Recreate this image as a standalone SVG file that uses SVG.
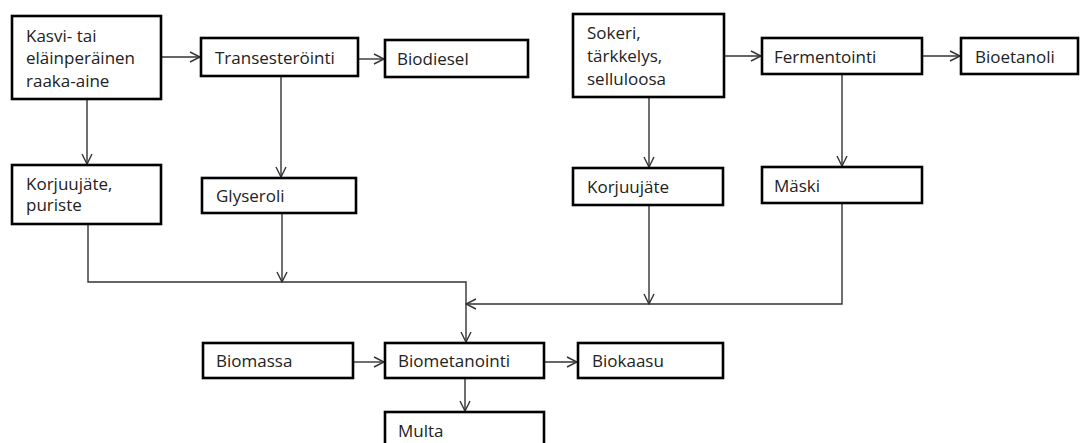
<svg xmlns="http://www.w3.org/2000/svg" width="1081" height="443" viewBox="0 0 1081 443">
<style>
.box{fill:#fff;stroke:#000;stroke-width:2.6}
.t{font-family:"Open Sans","Noto Sans",sans-serif;font-size:17px;fill:#222}
.c{fill:none;stroke:#333;stroke-width:1.4}
</style>
<defs>
<marker id="a" viewBox="0 0 12 12" refX="11" refY="6" markerWidth="12" markerHeight="12" markerUnits="userSpaceOnUse" orient="auto">
<path d="M1,1 L11,6 L1,11" fill="none" stroke="#333" stroke-width="1.4"/>
</marker>
</defs>
<rect width="1081" height="443" fill="#fff"/>
<g id="connectors">
<path class="c" d="M161,57 H200" marker-end="url(#a)"/>
<path class="c" d="M358,59 H384" marker-end="url(#a)"/>
<path class="c" d="M87,99 V164" marker-end="url(#a)"/>
<path class="c" d="M281,76 V177" marker-end="url(#a)"/>
<path class="c" d="M724,56 H761" marker-end="url(#a)"/>
<path class="c" d="M922,56 H960" marker-end="url(#a)"/>
<path class="c" d="M649,97 V167" marker-end="url(#a)"/>
<path class="c" d="M842,74 V166" marker-end="url(#a)"/>
<path class="c" d="M88,224 V282 H466 V342" marker-end="url(#a)"/>
<path class="c" d="M282,213 V282" marker-end="url(#a)"/>
<path class="c" d="M649,205 V304" marker-end="url(#a)"/>
<path class="c" d="M842,203 V304 H466" marker-end="url(#a)"/>
<path class="c" d="M353,362 H384" marker-end="url(#a)"/>
<path class="c" d="M544,362 H577" marker-end="url(#a)"/>
<path class="c" d="M465,378 V411" marker-end="url(#a)"/>
</g>
<g id="kasvi"><rect class="box" x="12" y="16" width="149" height="83"/><text class="t" x="26" y="42">Kasvi- tai</text><text class="t" x="26" y="64">eläinperäinen</text><text class="t" x="26" y="87">raaka-aine</text></g>
<g id="transesterointi"><rect class="box" x="201" y="38" width="157" height="38"/><text class="t" x="215" y="64">Transesteröinti</text></g>
<g id="biodiesel"><rect class="box" x="385" y="40" width="143" height="37"/><text class="t" x="397" y="65">Biodiesel</text></g>
<g id="sokeri"><rect class="box" x="573" y="14" width="151" height="83"/><text class="t" x="587" y="39">Sokeri,</text><text class="t" x="587" y="62">tärkkelys,</text><text class="t" x="587" y="85">selluloosa</text></g>
<g id="fermentointi"><rect class="box" x="762" y="38" width="160" height="36"/><text class="t" x="774" y="63">Fermentointi</text></g>
<g id="bioetanoli"><rect class="box" x="961" y="38" width="117" height="36"/><text class="t" x="975" y="63">Bioetanoli</text></g>
<g id="korjuujate-puriste"><rect class="box" x="12" y="165" width="149" height="59"/><text class="t" x="26" y="190">Korjuujäte,</text><text class="t" x="26" y="211">puriste</text></g>
<g id="glyseroli"><rect class="box" x="202" y="178" width="154" height="35"/><text class="t" x="216" y="202">Glyseroli</text></g>
<g id="korjuujate"><rect class="box" x="573" y="168" width="150" height="37"/><text class="t" x="587" y="193">Korjuujäte</text></g>
<g id="maski"><rect class="box" x="762" y="167" width="160" height="36"/><text class="t" x="774" y="192">Mäski</text></g>
<g id="biomassa"><rect class="box" x="203" y="343" width="150" height="35"/><text class="t" x="216" y="367">Biomassa</text></g>
<g id="biometanointi"><rect class="box" x="385" y="343" width="159" height="35"/><text class="t" x="398" y="367">Biometanointi</text></g>
<g id="biokaasu"><rect class="box" x="578" y="343" width="145" height="35"/><text class="t" x="592" y="367">Biokaasu</text></g>
<g id="multa"><rect class="box" x="385" y="412" width="159" height="40"/><text class="t" x="398" y="437">Multa</text></g>
</svg>
